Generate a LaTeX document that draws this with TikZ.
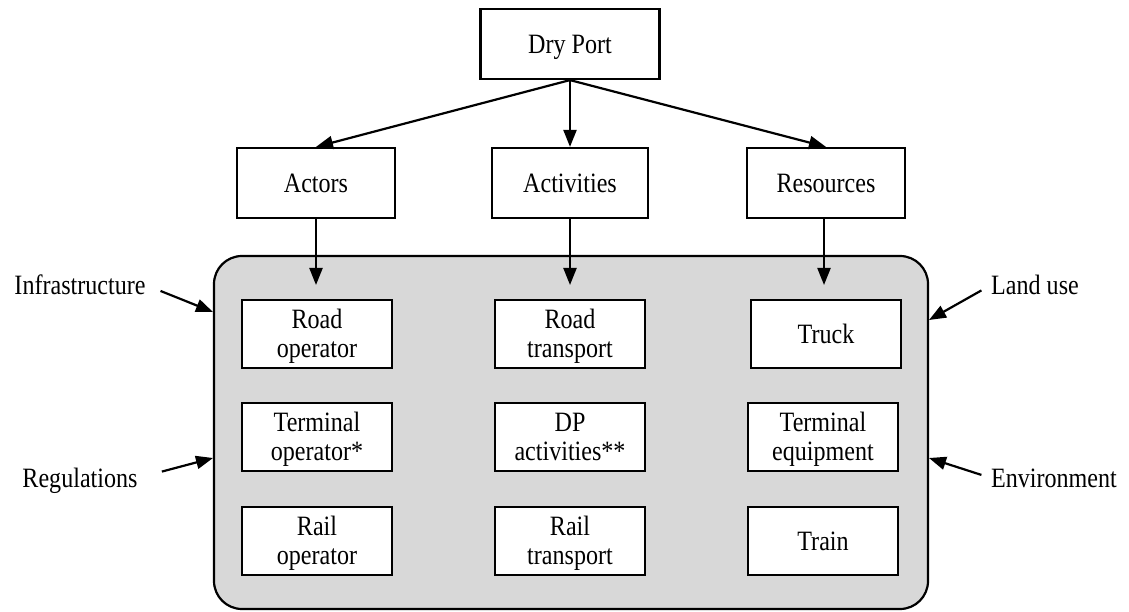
\documentclass[tikz,border=0pt]{standalone}
\usepackage{fontspec}
\setmainfont{Liberation Serif}
\usetikzlibrary{arrows.meta}
\definecolor{panelgray}{RGB}{216,216,216}
% condensed serif text, possibly over several lines, set a little low
\newcommand{\cond}[1]{\raisebox{-3.5pt}[\height][\depth]{\scalebox{0.86}[1]{\begin{tabular}{@{}c@{}}#1\end{tabular}}}}
\begin{document}
\begin{tikzpicture}[x=1pt,y=-1pt,
  txt/.style={font=\fontsize{28}{29}\selectfont},
  box/.style={txt,draw,line width=2.2pt,fill=white,align=center,inner sep=0pt,
              minimum width=150pt,minimum height=68pt},
  topbox/.style={box,minimum width=158pt,minimum height=70pt},
  lbl/.style={txt,inner sep=0pt},
  arr/.style={line width=2.2pt,-{Triangle[length=17pt,width=13pt]}}]
\useasboundingbox (0,0) rectangle (1129,612);

% grey panel holding the nine elements
\draw[line width=2.2pt,fill=panelgray,rounded corners=28pt] (214,256) rectangle (928,609);

% top level
\node[topbox,minimum width=179pt] (dp) at (570,44) {\cond{Dry Port}};
\node[topbox] (actors) at (316,183) {\cond{Actors}};
\node[topbox,minimum width=156pt] (activities) at (570,183) {\cond{Activities}};
\node[topbox] (resources) at (826,183) {\cond{Resources}};

\draw[arr] (dp.south) -- (actors.north);
\draw[arr] (dp.south) -- (activities.north);
\draw[arr] (dp.south) -- (resources.north);

% entry points into the panel
\coordinate (inA) at (316,285);
\coordinate (inB) at (570,285);
\coordinate (inC) at (824,285);
\draw[arr] (actors.south) -- (inA);
\draw[arr] (activities.south) -- (inB);
\draw[arr] (resources.south -| inC) -- (inC);

% actors column
\node[box] (roadop) at (317,334) {\cond{Road\\operator}};
\node[box] (termop) at (317,437) {\cond{Terminal\\operator*}};
\node[box] (railop) at (317,541) {\cond{Rail\\operator}};

% activities column
\node[box] (roadtr) at (570,334) {\cond{Road\\transport}};
\node[box] (dpact) at (570,437) {\cond{DP\\activities**}};
\node[box] (railtr) at (570,541) {\cond{Rail\\transport}};

% resources column
\node[box] (truck) at (826,334) {\cond{Truck}};
\node[box] (termeq) at (823,437) {\cond{Terminal\\equipment}};
\node[box] (train) at (823,541) {\cond{Train}};

% external factors
\node[lbl] (infra) at (80,285) {\cond{Infrastructure}};
\node[lbl] (reg) at (80,478) {\cond{Regulations}};
\node[lbl] (land) at (1035,285) {\cond{Land use}};
\node[lbl] (env) at (1054,478) {\cond{Environment}};

\coordinate (pInfra) at (213,312);
\coordinate (pReg) at (213,458);
\coordinate (pLand) at (929,320);
\coordinate (pEnv) at (929,458);

\draw[arr,shorten <=16pt] (infra.east) -- (pInfra);
\draw[arr,shorten <=25pt] (reg.east) -- (pReg);
\draw[arr,shorten <=11pt] (land.west) -- (pLand);
\draw[arr,shorten <=10pt] (env.west) -- (pEnv);
\end{tikzpicture}
\end{document}
